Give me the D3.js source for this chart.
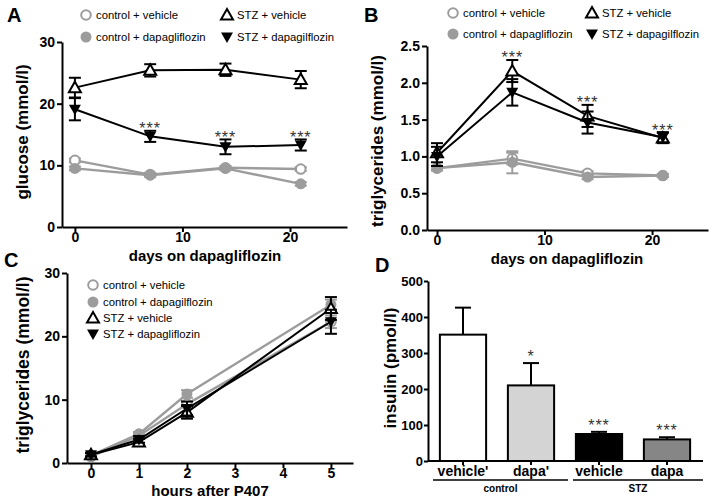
<!DOCTYPE html>
<html>
<head>
<meta charset="utf-8">
<script src="https://cdn.jsdelivr.net/npm/d3@7"></script>
<style>
html,body{margin:0;padding:0;background:#fff;}
svg{display:block;font-family:"Liberation Sans",Arial,sans-serif;}
</style>
</head>
<body>
<svg id="chart" width="714" height="504"></svg>
<script>
// ---------- DATA ----------
const days = [0, 7, 14, 21];
const dayTicks = [0, 10, 20];
const glucoseTicks = [0, 10, 20, 30];
const glucoseCtrlVeh = [10.8, 8.5, 9.6, 9.4];
const glucoseCtrlVehErr = [0.3, 0.3, 0.3, 0.3];
const glucoseCtrlDapa = [9.5, 8.4, 9.5, 7.0];
const glucoseCtrlDapaErr = [0.3, 0.3, 0.3, 0.3];
const glucoseStzVeh = [22.6, 25.4, 25.5, 23.9];
const glucoseStzVehErr = [1.6, 1.0, 1.0, 1.4];
const glucoseStzDapa = [19.1, 14.7, 13.0, 13.3];
const glucoseStzDapaErr = [1.8, 0.9, 1.2, 0.9];
const glucoseStars = ["", "***", "***", "***"];

const tgTicks = [0.0, 0.5, 1.0, 1.5, 2.0, 2.5];
const tgCtrlVeh = [0.84, 0.97, 0.77, 0.74];
const tgCtrlVehErr = [0.03, 0.08, 0.03, 0.02];
const tgCtrlDapa = [0.84, 0.92, 0.72, 0.74];
const tgCtrlDapaErr = [0.03, 0.15, 0.03, 0.02];
const tgStzVeh = [1.05, 2.16, 1.55, 1.25];
const tgStzVehErr = [0.13, 0.15, 0.15, 0.07];
const tgStzDapa = [1.00, 1.87, 1.46, 1.26];
const tgStzDapaErr = [0.13, 0.18, 0.15, 0.07];
const tgStars = ["", "***", "***", "***"];

const hours = [0, 1, 2, 5];
const hourTicks = [0, 1, 2, 3, 4, 5];
const p407Ticks = [0, 10, 20, 30];
const p407CtrlVeh = [1.0, 4.3, 9.3, 22.3];
const p407CtrlVehErr = [0.2, 0.3, 0.5, 1.0];
const p407CtrlDapa = [1.2, 4.6, 10.9, 25.0];
const p407CtrlDapaErr = [0.2, 0.3, 0.6, 0.8];
const p407StzVeh = [1.3, 3.3, 8.0, 24.4];
const p407StzVehErr = [0.3, 0.5, 1.0, 1.8];
const p407StzDapa = [1.3, 3.7, 8.6, 22.3];
const p407StzDapaErr = [0.3, 0.5, 1.1, 1.9];

const insulinCats = ["vehicle'", "dapa'", "vehicle", "dapa"];
const insulinVals = [351, 210, 75, 60];
const insulinErr = [75, 62, 6, 6];
const insulinStars = ["", "*", "***", "***"];
const insulinFill = ["#ffffff", "#d4d4d4", "#000000", "#868686"];
const insulinGroups = ["control", "STZ"];
const insulinTicks = [0, 100, 200, 300, 400, 500];

// ---------- STYLES ----------
const GREY = "#9c9c9c";
const styles = {
  ctrlVeh: {color: GREY, marker: "circleOpen"},
  ctrlDapa: {color: GREY, marker: "circleFilled"},
  stzVeh: {color: "#000", marker: "triUp"},
  stzDapa: {color: "#000", marker: "triDown"}
};
const LEG_FONT = 11.3;
const TICK_FONT = 14;
const STAR_FONT = 16;

const svg = d3.select("#chart");
const FONT = "'Liberation Sans', Arial, sans-serif";

function drawMarker(g, type, x, y, color) {
  if (type === "circleOpen") {
    g.append("circle").attr("cx", x).attr("cy", y).attr("r", 4.8)
      .attr("fill", "#fff").attr("stroke", color).attr("stroke-width", 2);
  } else if (type === "circleFilled") {
    g.append("circle").attr("cx", x).attr("cy", y).attr("r", 5.5)
      .attr("fill", color).attr("stroke", "none");
  } else if (type === "triUp") {
    const s = 6;
    g.append("path").attr("d", `M${x},${y - s}L${x + s},${y + s * 0.75}L${x - s},${y + s * 0.75}Z`)
      .attr("fill", "#fff").attr("stroke", color).attr("stroke-width", 2).attr("stroke-linejoin", "miter");
  } else if (type === "triDown") {
    const s = 6;
    g.append("path").attr("d", `M${x},${y + s}L${x + s},${y - s * 0.75}L${x - s},${y - s * 0.75}Z`)
      .attr("fill", color);
  }
}

function axisStyle(g, size) {
  g.selectAll("path,line").attr("stroke", "#000").attr("stroke-width", 2);
  g.selectAll("text").attr("font-family", FONT).attr("font-weight", "bold")
    .attr("font-size", size || TICK_FONT).attr("fill", "#000");
}

function starText(g, x, y, s) {
  g.append("text").attr("x", x).attr("y", y)
    .attr("text-anchor", "middle").attr("font-family", FONT).attr("font-size", STAR_FONT)
    .attr("fill", "#333").attr("letter-spacing", 1).text(s);
}

function linePanel(opt) {
  const g = svg.append("g");
  const x = d3.scaleLinear().domain(opt.xDomain).range(opt.xRange);
  const y = d3.scaleLinear().domain(opt.yDomain).range(opt.yRange);

  const xa = g.append("g").attr("transform", `translate(0,${opt.yRange[0]})`)
    .call(d3.axisBottom(x).tickValues(opt.xTicks).tickSize(5).tickSizeOuter(0).tickPadding(0).tickFormat(d3.format("d")));
  axisStyle(xa);
  const ya = g.append("g").attr("transform", `translate(${opt.xRange[0]},0)`)
    .call(d3.axisLeft(y).tickValues(opt.yTicks).tickSize(5).tickSizeOuter(0).tickPadding(2).tickFormat(opt.yFormat));
  axisStyle(ya);

  const line = d3.line().x(d => x(d.x)).y(d => y(d.y));
  opt.series.forEach(s => {
    const st = styles[s.key];
    const pts = opt.xs.map((xv, i) => ({x: xv, y: s.values[i], e: s.err[i]}));
    const sg = g.append("g");
    sg.append("path").datum(pts).attr("d", line).attr("fill", "none")
      .attr("stroke", st.color).attr("stroke-width", st.color === GREY ? 2.4 : 2);
    pts.forEach(p => {
      const y1 = y(p.y + p.e), y2 = y(p.y - p.e), cx = x(p.x);
      sg.append("line").attr("x1", cx).attr("x2", cx).attr("y1", y1).attr("y2", y2)
        .attr("stroke", st.color).attr("stroke-width", 2);
      [y1, y2].forEach(yy => sg.append("line").attr("x1", cx - 6).attr("x2", cx + 6)
        .attr("y1", yy).attr("y2", yy).attr("stroke", st.color).attr("stroke-width", 2));
    });
    pts.forEach(p => drawMarker(sg, st.marker, x(p.x), y(p.y), st.color));
  });

  if (opt.starSeries) {
    opt.stars.forEach((s, i) => {
      if (!s) return;
      const top = d3.max(opt.starSeries, se => se.values[i] + se.err[i]);
      starText(g, x(opt.xs[i]), y(top) + 3.5, s);
    });
  }

  // axis titles
  g.append("text").attr("x", opt.xTitlePos[0]).attr("y", opt.xTitlePos[1])
    .attr("text-anchor", "middle").attr("font-family", FONT).attr("font-weight", "bold")
    .attr("font-size", 15).text(opt.xTitle);
  g.append("text").attr("transform", `translate(${opt.yTitlePos[0]},${opt.yTitlePos[1]}) rotate(-90)`)
    .attr("text-anchor", "middle").attr("font-family", FONT).attr("font-weight", "bold")
    .attr("font-size", opt.yTitleSize || 17).text(opt.yTitle);

  // legend
  opt.legend.forEach(l => {
    const st = styles[l.key];
    drawMarker(g, st.marker, l.x, l.y, st.color);
    g.append("text").attr("x", l.x + 10).attr("y", l.y + 4).attr("font-family", FONT)
      .attr("font-size", LEG_FONT).attr("fill", "#000").text(l.label);
  });

  // panel letter
  g.append("text").attr("x", opt.letterPos[0]).attr("y", opt.letterPos[1]).attr("font-family", FONT)
    .attr("font-weight", "bold").attr("font-size", 20).text(opt.letter);
}

// Panel A
const seriesA = [
  {key: "ctrlVeh", values: glucoseCtrlVeh, err: glucoseCtrlVehErr},
  {key: "ctrlDapa", values: glucoseCtrlDapa, err: glucoseCtrlDapaErr},
  {key: "stzVeh", values: glucoseStzVeh, err: glucoseStzVehErr},
  {key: "stzDapa", values: glucoseStzDapa, err: glucoseStzDapaErr}
];
linePanel({
  xs: days, xDomain: [-1.2, 25.3], xRange: [62, 347], xTicks: dayTicks,
  yDomain: [0, 30], yRange: [227, 42], yTicks: glucoseTicks, yFormat: d3.format("d"),
  series: seriesA,
  stars: glucoseStars, starSeries: [seriesA[3]],
  xTitle: "days on dapagliflozin", xTitlePos: [205, 261],
  yTitle: "glucose (mmol/l)", yTitlePos: [28, 132],
  legend: [
    {key: "ctrlVeh", x: 86, y: 15, label: "control + vehicle"},
    {key: "ctrlDapa", x: 86, y: 37, label: "control + dapagliflozin"},
    {key: "stzVeh", x: 227, y: 15, label: "STZ + vehicle"},
    {key: "stzDapa", x: 227, y: 37, label: "STZ + dapagilflozin"}
  ],
  letter: "A", letterPos: [7, 22]
});

// Panel B
const seriesB = [
  {key: "ctrlVeh", values: tgCtrlVeh, err: tgCtrlVehErr},
  {key: "ctrlDapa", values: tgCtrlDapa, err: tgCtrlDapaErr},
  {key: "stzVeh", values: tgStzVeh, err: tgStzVehErr},
  {key: "stzDapa", values: tgStzDapa, err: tgStzDapaErr}
];
linePanel({
  xs: days, xDomain: [-0.93, 25.2], xRange: [427, 708], xTicks: dayTicks,
  yDomain: [0, 2.5], yRange: [230, 46], yTicks: tgTicks, yFormat: d3.format(".1f"),
  series: seriesB,
  stars: tgStars, starSeries: [seriesB[2], seriesB[3]],
  xTitle: "days on dapagliflozin", xTitlePos: [567, 264],
  yTitle: "triglycerides (mmol/l)", yTitlePos: [383, 141],
  legend: [
    {key: "ctrlVeh", x: 453, y: 13, label: "control + vehicle"},
    {key: "ctrlDapa", x: 453, y: 34, label: "control + dapagliflozin"},
    {key: "stzVeh", x: 592, y: 13, label: "STZ + vehicle"},
    {key: "stzDapa", x: 592, y: 34, label: "STZ + dapagilflozin"}
  ],
  letter: "B", letterPos: [364, 22]
});

// Panel C
linePanel({
  xs: hours, xDomain: [-0.5, 5.46], xRange: [67, 353], xTicks: hourTicks,
  yDomain: [0, 30], yRange: [463, 273], yTicks: p407Ticks, yFormat: d3.format("d"),
  series: [
    {key: "ctrlVeh", values: p407CtrlVeh, err: p407CtrlVehErr},
    {key: "ctrlDapa", values: p407CtrlDapa, err: p407CtrlDapaErr},
    {key: "stzVeh", values: p407StzVeh, err: p407StzVehErr},
    {key: "stzDapa", values: p407StzDapa, err: p407StzDapaErr}
  ],
  stars: null, starSeries: null,
  xTitle: "hours after P407", xTitlePos: [210, 496],
  yTitle: "triglycerides (mmol/l)", yTitlePos: [29, 365], yTitleSize: 17.5,
  legend: [
    {key: "ctrlVeh", x: 93, y: 285, label: "control + vehicle"},
    {key: "ctrlDapa", x: 93, y: 302, label: "control + dapagilflozin"},
    {key: "stzVeh", x: 93, y: 318, label: "STZ + vehicle"},
    {key: "stzDapa", x: 93, y: 334, label: "STZ + dapagliflozin"}
  ],
  letter: "C", letterPos: [4, 267]
});

// Panel D (bars)
(function () {
  const g = svg.append("g");
  const x = d3.scaleBand().domain(insulinCats).range([429, 701]).paddingInner(0.32).paddingOuter(0.16);
  const y = d3.scaleLinear().domain([0, 500]).range([461, 281]);
  const data = insulinCats.map((c, i) => ({c, v: insulinVals[i], e: insulinErr[i], f: insulinFill[i], s: insulinStars[i]}));

  // error bars (upper only)
  data.forEach(d => {
    const cx = x(d.c) + x.bandwidth() / 2;
    g.append("line").attr("x1", cx).attr("x2", cx).attr("y1", y(d.v)).attr("y2", y(d.v + d.e))
      .attr("stroke", "#000").attr("stroke-width", 2);
    g.append("line").attr("x1", cx - 8).attr("x2", cx + 8).attr("y1", y(d.v + d.e)).attr("y2", y(d.v + d.e))
      .attr("stroke", "#000").attr("stroke-width", 2);
  });
  g.selectAll("rect.bar").data(data).join("rect").attr("class", "bar")
    .attr("x", d => x(d.c)).attr("width", x.bandwidth())
    .attr("y", d => y(d.v)).attr("height", d => y(0) - y(d.v))
    .attr("fill", d => d.f).attr("stroke", "#000").attr("stroke-width", 2);

  data.forEach(d => {
    if (!d.s) return;
    starText(g, x(d.c) + x.bandwidth() / 2, y(d.v + d.e) - 1, d.s);
  });

  const xa = g.append("g").attr("transform", `translate(0,${y(0)})`)
    .call(d3.axisBottom(x).tickSize(4).tickSizeOuter(0).tickPadding(1));
  xa.select(".domain").attr("d", `M428,0H703`);
  axisStyle(xa, 14);
  const ya = g.append("g").attr("transform", `translate(428,0)`)
    .call(d3.axisLeft(y).tickValues(insulinTicks).tickSize(4).tickSizeOuter(0).tickPadding(1));
  axisStyle(ya, 13);

  // group brackets
  const gx = [[433, 568], [573, 703]];
  insulinGroups.forEach((name, i) => {
    g.append("line").attr("x1", gx[i][0]).attr("x2", gx[i][1]).attr("y1", 480).attr("y2", 480)
      .attr("stroke", "#000").attr("stroke-width", 1.5);
    g.append("text").attr("x", (gx[i][0] + gx[i][1]) / 2).attr("y", 492).attr("text-anchor", "middle")
      .attr("font-family", FONT).attr("font-weight", "bold").attr("font-size", 10).text(name);
  });

  g.append("text").attr("transform", `translate(396,368) rotate(-90)`)
    .attr("text-anchor", "middle").attr("font-family", FONT).attr("font-weight", "bold")
    .attr("font-size", 17).text("insulin (pmol/l)");
  g.append("text").attr("x", 375).attr("y", 272).attr("font-family", FONT)
    .attr("font-weight", "bold").attr("font-size", 20).text("D");
})();
</script>
</body>
</html>
